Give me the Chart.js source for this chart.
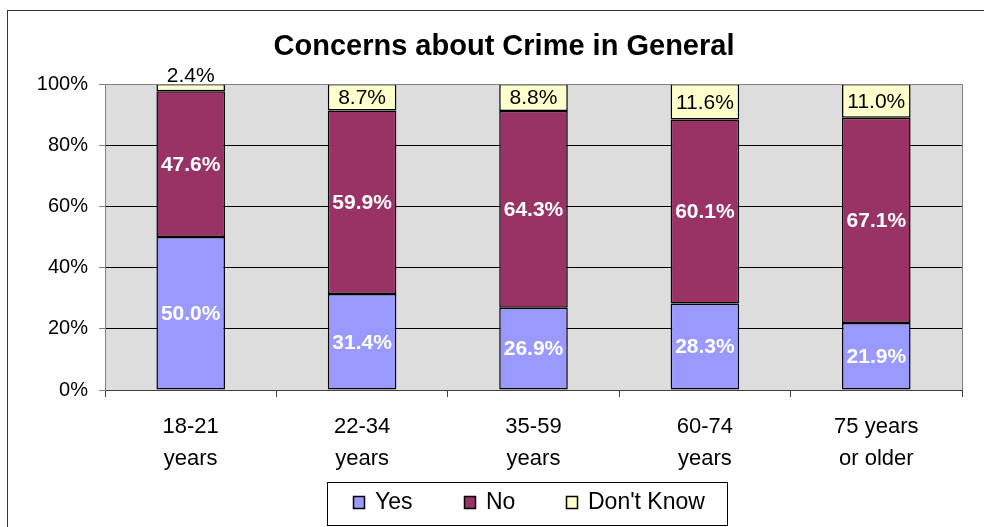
<!DOCTYPE html>
<html>
<head>
<meta charset="utf-8">
<script src="https://cdn.jsdelivr.net/npm/chart.js@4.4.0/dist/chart.umd.min.js"></script>
<style>
  html, body { margin: 0; padding: 0; background: #fff; }
</style>
</head>
<body>
<canvas id="crimeChart" width="984" height="527"></canvas>
<script>
// chart data
var categories = [['18-21', 'years'], ['22-34', 'years'], ['35-59', 'years'], ['60-74', 'years'], ['75 years', 'or older']];
var yesValues = [50.0, 31.4, 26.9, 28.3, 21.9];
var noValues = [47.6, 59.9, 64.3, 60.1, 67.1];
var dontKnowValues = [2.4, 8.7, 8.8, 11.6, 11.0];
var seriesNames = ['Yes', 'No', "Don't Know"];
var seriesColors = ['#9999FF', '#993366', '#FFFFCC'];
var chartTitle = 'Concerns about Crime in General';

var FONT = '"Liberation Sans", Arial, sans-serif';

// draws background, title, value labels and the boxed legend
var decorPlugin = {
    id: 'decor',
    beforeDraw: function (chart) {
        var ctx = chart.ctx;
        var a = chart.chartArea;
        ctx.save();
        ctx.fillStyle = '#fff';
        ctx.fillRect(0, 0, chart.width, chart.height);
        // outer frame
        ctx.strokeStyle = '#333';
        ctx.lineWidth = 1;
        ctx.strokeRect(7.5, 10.5, 1100, 1100);
        // plot background
        ctx.fillStyle = '#DDDDDD';
        ctx.fillRect(a.left, a.top, a.right - a.left, a.bottom - a.top);
        ctx.restore();
    },
    afterDatasetsDraw: function (chart) {
        var ctx = chart.ctx;
        var a = chart.chartArea;
        ctx.save();
        // top and right plot border
        ctx.strokeStyle = '#808080';
        ctx.lineWidth = 1;
        ctx.beginPath();
        ctx.moveTo(a.left, Math.round(a.top) + 0.5);
        ctx.lineTo(Math.round(a.right) + 0.5, Math.round(a.top) + 0.5);
        ctx.lineTo(Math.round(a.right) + 0.5, a.bottom);
        ctx.stroke();

        ctx.textAlign = 'center';
        chart.data.datasets.forEach(function (ds, di) {
            var meta = chart.getDatasetMeta(di);
            meta.data.forEach(function (bar, i) {
                var txt = ds.data[i].toFixed(1) + '%';
                var h = bar.base - bar.y;
                if (di < 2) {
                    ctx.font = 'bold 21px ' + FONT;
                    ctx.fillStyle = '#fff';
                    ctx.textBaseline = 'middle';
                    ctx.fillText(txt, bar.x, (bar.y + bar.base) / 2 + 1);
                } else {
                    ctx.font = '21px ' + FONT;
                    ctx.fillStyle = '#000';
                    if (h < 20) {
                        ctx.textBaseline = 'alphabetic';
                        ctx.fillText(txt, bar.x, bar.y - 2);
                    } else {
                        ctx.textBaseline = 'middle';
                        ctx.fillText(txt, bar.x, (bar.y + bar.base) / 2 + 1);
                    }
                }
            });
        });
        ctx.restore();
    },
    afterDraw: function (chart) {
        var ctx = chart.ctx;
        ctx.save();
        // title
        ctx.font = 'bold 29px ' + FONT;
        ctx.fillStyle = '#000';
        ctx.textAlign = 'center';
        ctx.textBaseline = 'middle';
        ctx.fillText(chartTitle, 504, 47);

        // legend box
        ctx.strokeStyle = '#000';
        ctx.lineWidth = 1;
        ctx.strokeRect(327.5, 482.5, 400, 43);
        var itemX = [353, 464, 566];
        ctx.font = '23px ' + FONT;
        ctx.textAlign = 'left';
        seriesNames.forEach(function (name, i) {
            ctx.fillStyle = seriesColors[i];
            ctx.fillRect(itemX[i] + 0.5, 496.5, 11, 12);
            ctx.strokeStyle = '#000';
            ctx.lineWidth = 1.5;
            ctx.strokeRect(itemX[i] + 0.5, 496.5, 11, 12);
            ctx.fillStyle = '#000';
            ctx.fillText(name, itemX[i] + 22, 503);
        });
        ctx.restore();
    }
};

var datasets = [yesValues, noValues, dontKnowValues].map(function (vals, i) {
    return {
        label: seriesNames[i],
        data: vals,
        backgroundColor: seriesColors[i],
        borderColor: '#000',
        borderWidth: 1.5,
        borderSkipped: false,
        barPercentage: 0.4,
        categoryPercentage: 1.0
    };
});

new Chart(document.getElementById('crimeChart'), {
    type: 'bar',
    data: { labels: categories, datasets: datasets },
    plugins: [decorPlugin],
    options: {
        responsive: false,
        animation: false,
        devicePixelRatio: 1,
        layout: { padding: { top: 84, left: 0, right: 22, bottom: 45 } },
        plugins: {
            legend: { display: false },
            title: { display: false },
            tooltip: { enabled: false }
        },
        scales: {
            x: {
                stacked: true,
                afterFit: function (scale) { scale.height = 92; },
                grid: {
                    offset: true,
                    drawOnChartArea: false,
                    tickLength: 7,
                    color: '#404040'
                },
                border: { color: '#404040', width: 1 },
                ticks: {
                    color: '#000',
                    padding: 14,
                    font: { family: FONT, size: 22, lineHeight: 1.45 },
                    maxRotation: 0
                }
            },
            y: {
                stacked: true,
                min: 0,
                max: 100,
                afterFit: function (scale) { scale.width = 105; },
                grid: {
                    color: function (c) {
                        return (c.tick.value === 0 || c.tick.value === 100) ? '#808080' : '#000';
                    },
                    tickColor: '#808080',
                    tickLength: 6
                },
                border: { color: '#808080', width: 1 },
                ticks: {
                    stepSize: 20,
                    color: '#000',
                    padding: 11,
                    font: { family: FONT, size: 20 },
                    callback: function (v) { return v + '%'; }
                }
            }
        }
    }
});
</script>
</body>
</html>
